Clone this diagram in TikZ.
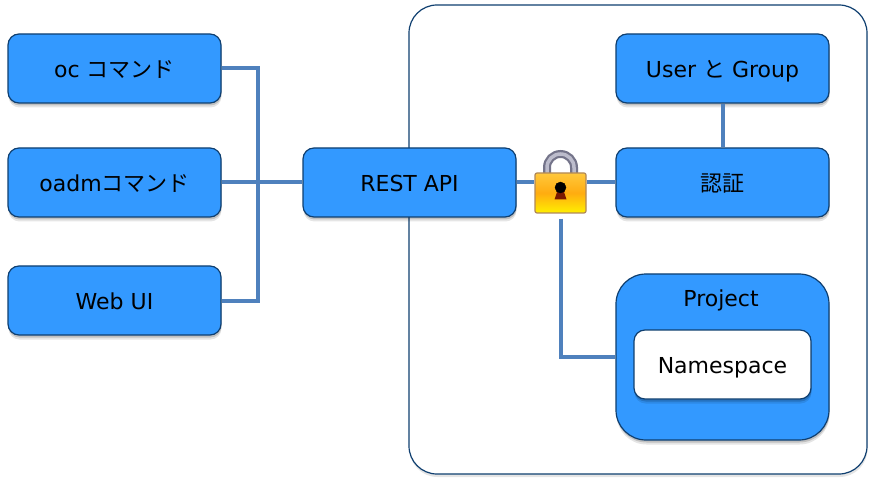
\documentclass[tikz,border=0pt]{standalone}
\usepackage{fontspec}
\setmainfont{DejaVu Sans}
\newfontfamily\cjk{Noto Sans CJK JP}
\usetikzlibrary{shadows}
\definecolor{boxblue}{HTML}{3399FF}
\definecolor{boxedge}{HTML}{0F3F70}
\definecolor{linkblue}{HTML}{4F81BD}
\definecolor{locktop}{HTML}{FFC83C}
\definecolor{lockmid}{HTML}{FFAC10}
\definecolor{lockbottom}{HTML}{FFF000}
\definecolor{lockedge}{HTML}{B08858}
\definecolor{shackledark}{HTML}{74748A}
\definecolor{shacklelight}{HTML}{BCBCCC}
\definecolor{keyflare}{HTML}{7A1800}
\tikzset{
    softshadow/.style={drop shadow={shadow xshift=0.5pt,shadow yshift=-4.5pt,opacity=0.10,fill=black},
        drop shadow={shadow xshift=0.5pt,shadow yshift=-2.5pt,opacity=0.16,fill=black}},
    boxtext/.style={font=\fontsize{22}{26}\selectfont,text height=22pt,text depth=4pt},
    bluebox/.style={draw=boxedge,line width=1.2pt,fill=boxblue,rounded corners=11pt,
        minimum width=213pt,minimum height=69pt,inner sep=0pt,text=black,boxtext,softshadow},
    link/.style={draw=linkblue,line width=4pt},
}
\begin{document}
\begin{tikzpicture}[%
    x=1pt,y=-1pt,
    ]
    \useasboundingbox (0,0) rectangle (875,486);
    \node [draw=boxedge,line width=1.2pt,fill=white,rounded corners=28pt,minimum width=458pt,minimum height=469pt,inner sep=0pt,drop shadow={shadow xshift=0.5pt,shadow yshift=-3pt,opacity=0.10,fill=black}] (cluster) at (638,239.5) {};
    \node [bluebox] (oc) at (114.5,68.5) {oc {\cjk コマンド}};
    \node [bluebox] (oadm) at (114.5,182.5) {oadm{\cjk コマンド}};
    \node [bluebox] (webui) at (114.5,300.5) {Web UI};
    \node [bluebox] (rest) at (409.5,182.5) {REST API};
    \node [bluebox] (usergroup) at (722.5,68.5) {User {\cjk と} Group};
    \node [bluebox] (auth) at (722.5,182.5) {{\cjk 認証}};
    \node [bluebox,minimum height=166pt,rounded corners=30pt] (project) at (722.5,357) {};
    \node [boxtext,inner sep=0pt] (projectlabel) at (721,297) {Project};
    \node [bluebox,fill=white,minimum width=177pt] (namespace) at (722.5,364.5) {Namespace};
    \coordinate (bus) at (258,182.5);
    % shackle first, so the body hides its feet
    \draw [line width=8pt,color=shackledark] (547,180) -- (547,167.5) arc [start angle=180,end angle=360,radius=13.5] -- (574,180);
    \draw [line width=3.5pt,color=shacklelight] (547,180) -- (547,167.5) arc [start angle=180,end angle=360,radius=13.5] -- (574,180);
    \node [draw=lockedge,line width=1.2pt,rounded corners=2pt,minimum width=51pt,minimum height=40pt,inner sep=0pt,
        top color=locktop,bottom color=lockbottom,middle color=lockmid] (lock) at (560.5,193) {};
    \fill [color=keyflare] (554.5,199.5) -- (566.5,199.5) -- (563,189) -- (558,189) -- cycle;
    \filldraw [color=black] (560.5,187.5) circle (5.5pt);
    \draw [link] (oc.east) -| (bus) |- (webui.east);
    \draw [link] (oadm.east) -- (rest.west);
    \draw [link] (rest.east) -- (rest.east -| lock.west);
    \draw [link] (auth.west -| lock.east) -- (auth.west);
    \draw [link] (usergroup.south) -- (auth.north);
    \draw [link,shorten <=5pt] (lock.south) |- (project.west);
    \end{tikzpicture}
\end{document}
